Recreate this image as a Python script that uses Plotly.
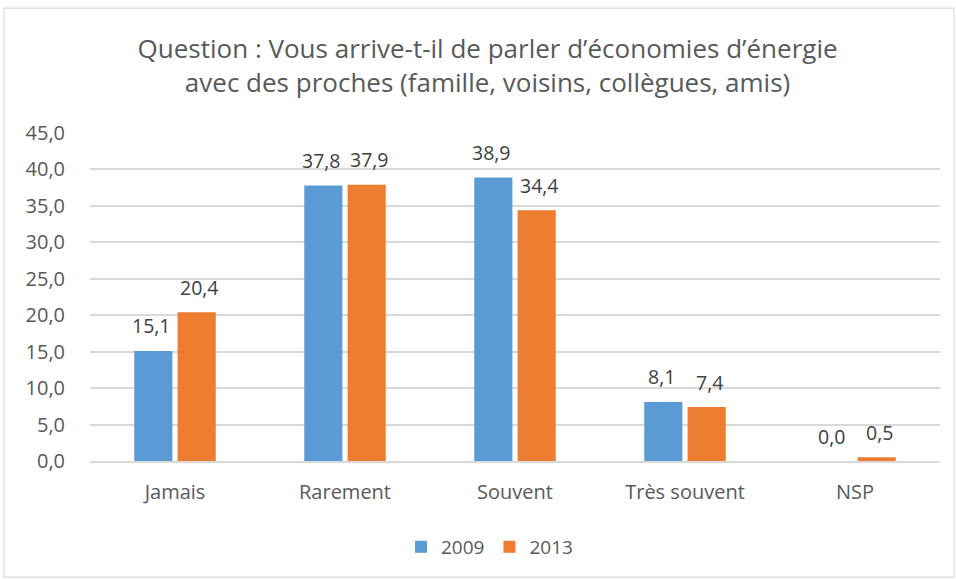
import plotly.graph_objects as go

categories = ["Jamais", "Rarement", "Souvent", "Très souvent", "NSP"]
values_2009 = [15.1, 37.8, 38.9, 8.1, 0.0]
values_2013 = [20.4, 37.9, 34.4, 7.4, 0.5]
series_names = ["2009", "2013"]
y_ticks = [0, 5, 10, 15, 20, 25, 30, 35, 40, 45]

BLUE = "#5B9BD5"
ORANGE = "#ED7D31"
TEXT = "#595959"
GRID = "#D9D9D9"
FONT = "Open Sans, Calibri, sans-serif"


def fr(v):
    return f"{v:.1f}".replace(".", ",")


fig = go.Figure()
for name, vals, col in [(series_names[0], values_2009, BLUE),
                        (series_names[1], values_2013, ORANGE)]:
    fig.add_trace(go.Bar(x=categories, y=vals, name=name, marker_color=col,
                         marker_line_width=0))

# value labels above each bar
for name, vals, shift in [(series_names[0], values_2009, -24),
                          (series_names[1], values_2013, 24)]:
    for c, v in zip(categories, vals):
        fig.add_annotation(x=c, y=v, text=fr(v), showarrow=False,
                           xshift=shift, yshift=25, yanchor="middle",
                           font=dict(size=19.5, color="#404040", family=FONT))

# outer chart border
fig.add_shape(type="rect", xref="paper", yref="paper",
              x0=-0.1012, x1=1.0165, y0=-0.354, y1=1.381,
              line=dict(color="#D9D9D9", width=1.2), fillcolor="rgba(0,0,0,0)")

fig.update_layout(
    width=956, height=579,
    margin=dict(l=90, r=16, t=133, b=118),
    paper_bgcolor="white", plot_bgcolor="white",
    font=dict(family=FONT, color=TEXT, size=19),
    title=dict(text="Question : Vous arrive-t-il de parler d’économies d’énergie<br>avec des proches (famille, voisins, collègues, amis)",
               x=0.51, xanchor="center", y=0.9, yanchor="middle",
               font=dict(size=26, color=TEXT, family=FONT)),
    barmode="group", bargap=0.49, bargroupgap=0.12,
    showlegend=True,
    legend=dict(orientation="h", x=0.47, xanchor="center", y=-0.262, yanchor="middle",
                font=dict(size=19, color=TEXT, family=FONT),
                itemwidth=30, traceorder="normal"),
    xaxis=dict(showgrid=False, showline=True, linecolor=GRID, linewidth=1.5,
               tickfont=dict(size=20, color=TEXT), ticks="outside", ticklen=12,
               tickcolor="rgba(0,0,0,0)"),
    yaxis=dict(range=[0, 45], tickvals=y_ticks, ticktext=[fr(t) for t in y_ticks],
               showgrid=True, gridcolor=GRID, gridwidth=1.5, zeroline=False,
               showline=False, ticks="outside", ticklen=20,
               tickcolor="rgba(0,0,0,0)", tickfont=dict(size=20, color=TEXT)),
)

fig.write_html("out.html")
